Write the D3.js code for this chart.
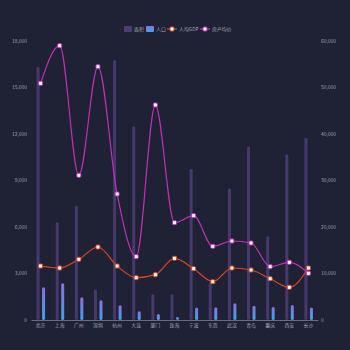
<!DOCTYPE html>
<html>
<head>
<meta charset="utf-8">
<script src="https://cdn.jsdelivr.net/npm/d3@7"></script>
<style>
  html, body { margin: 0; padding: 0; background: #1f2135; }
  text { font-family: "Noto Sans CJK SC", "Noto Sans", sans-serif; }
</style>
</head>
<body>
<svg id="chart" width="350" height="350"></svg>
<script>
const cities = ['北京','上海','广州','深圳','杭州','大连','厦门','珠海','宁波','东莞','武汉','青岛','重庆','西安','长沙']
const area = [16340, 6300, 7370, 1980, 16770, 12500, 1660, 1660, 9760, 2430, 8500, 11200, 5420, 10690, 11760]
const population = [2110, 2370, 1460, 1270, 950, 560, 390, 190, 800, 820, 1080, 920, 840, 970, 800]
const gdpPerCapita = [11610, 11180, 13050, 15700, 11610, 9100, 9750, 13260, 11040, 8240, 11180, 10750, 8890, 7030, 11180]
const housePrice = [50900, 58990, 31120, 54480, 27100, 13620, 46240, 20930, 22440, 15840, 16990, 16560, 11470, 12400, 10040]
const leftTicks = [0, 3000, 6000, 9000, 12000, 15000, 18000]
const rightTicks = [0, 10000, 20000, 30000, 40000, 50000, 60000]
const legendNames = ['面积', '人口', '人均GDP', '房产均价']

const M = {top: 41, right: 32, bottom: 30, left: 31}
const W = 350, H = 350
const FS = '4.9px'
const TXT = '#a2a4b2'
const svg = d3.select('#chart')

let defs = svg.append('defs')
let grad = defs.append('linearGradient')
  .attr('id', 'popGrad')
  .attr('x1', 0).attr('y1', 0).attr('x2', 0).attr('y2', 1)
grad.append('stop').attr('offset', '0%').attr('stop-color', '#8c6fe6')
grad.append('stop').attr('offset', '100%').attr('stop-color', '#3aa6e6')

let x = d3.scaleBand()
  .domain(cities)
  .range([M.left, W - M.right])

let yL = d3.scaleLinear()
  .domain([0, 18000])
  .range([H - M.bottom, M.top])

let yR = d3.scaleLinear()
  .domain([0, 60000])
  .range([H - M.bottom, M.top])

// left axis labels
svg.append('g')
  .selectAll('text')
  .data(leftTicks)
  .join('text')
  .attr('x', M.left - 4)
  .attr('y', d => yL(d))
  .attr('dy', '0.35em')
  .attr('text-anchor', 'end')
  .attr('fill', TXT)
  .style('font-size', FS)
  .text(d => d3.format(',')(d))

// right axis labels
svg.append('g')
  .selectAll('text')
  .data(rightTicks)
  .join('text')
  .attr('x', W - M.right + 3)
  .attr('y', d => yR(d))
  .attr('dy', '0.35em')
  .attr('text-anchor', 'start')
  .attr('fill', TXT)
  .style('font-size', FS)
  .text(d => d3.format(',')(d))

// bottom axis
let xAxis = svg.append('g')
  .attr('transform', 'translate(0,' + (H - M.bottom) + ')')
  .call(d3.axisBottom(x).tickSize(0).tickPadding(4))
xAxis.select('.domain').attr('stroke', '#6a6c7c')
xAxis.selectAll('text')
  .attr('fill', TXT)
  .style('font-size', FS)
  .style('font-family', '"Noto Sans CJK SC", sans-serif')

const BW = 3
// area bars
svg.append('g')
  .selectAll('rect')
  .data(cities)
  .join('rect')
  .attr('x', d => x(d) + x.bandwidth() / 2 - 2.5 - BW / 2)
  .attr('y', (d, i) => yL(area[i]))
  .attr('width', BW)
  .attr('height', (d, i) => yL(0) - yL(area[i]))
  .attr('rx', 1.5)
  .attr('fill', '#4b3c74')
  .attr('opacity', 0.9)

// population bars
svg.append('g')
  .selectAll('rect')
  .data(cities)
  .join('rect')
  .attr('x', d => x(d) + x.bandwidth() / 2 + 3 - BW / 2)
  .attr('y', (d, i) => yL(population[i]))
  .attr('width', BW)
  .attr('height', (d, i) => yL(0) - yL(population[i]))
  .attr('rx', 1.5)
  .attr('fill', 'url(#popGrad)')

function drawLine(values, color) {
  let pts = cities.map((c, i) => [x(c) + x.bandwidth() / 2, yR(values[i])])
  let line = d3.line().curve(d3.curveMonotoneX)
  svg.append('path')
    .attr('d', line(pts))
    .attr('fill', 'none')
    .attr('stroke', color)
    .attr('stroke-width', 1.2)
  svg.append('g')
    .selectAll('rect')
    .data(pts)
    .join('rect')
    .attr('x', d => d[0] - 2)
    .attr('y', d => d[1] - 2)
    .attr('width', 4)
    .attr('height', 4)
    .attr('rx', 1)
    .attr('fill', '#ffffff')
    .attr('stroke', color)
    .attr('stroke-width', 1)
}
drawLine(gdpPerCapita, '#d9461a')
drawLine(housePrice, '#c22fb8')

// legend
let lg = svg.append('g').attr('transform', 'translate(0,29)')
lg.append('rect').attr('x', 124).attr('y', -3).attr('width', 8).attr('height', 6).attr('rx', 1).attr('fill', '#4b3c74')
lg.append('text').attr('x', 134).attr('dy', '0.35em').text(legendNames[0])
lg.append('rect').attr('x', 146).attr('y', -3).attr('width', 8).attr('height', 6).attr('rx', 1).attr('fill', 'url(#popGrad)')
lg.append('text').attr('x', 156).attr('dy', '0.35em').text(legendNames[1])
lg.append('line').attr('x1', 167).attr('x2', 177).attr('stroke', '#d9461a').attr('stroke-width', 1.2)
lg.append('rect').attr('x', 170).attr('y', -2).attr('width', 4).attr('height', 4).attr('rx', 1).attr('fill', '#fff').attr('stroke', '#d9461a')
lg.append('text').attr('x', 179).attr('dy', '0.35em').text(legendNames[2])
lg.append('line').attr('x1', 200).attr('x2', 210).attr('stroke', '#c22fb8').attr('stroke-width', 1.2)
lg.append('rect').attr('x', 203).attr('y', -2).attr('width', 4).attr('height', 4).attr('rx', 1).attr('fill', '#fff').attr('stroke', '#c22fb8')
lg.append('text').attr('x', 212).attr('dy', '0.35em').text(legendNames[3])
lg.selectAll('text').attr('fill', TXT).style('font-size', FS)
</script>
</body>
</html>
